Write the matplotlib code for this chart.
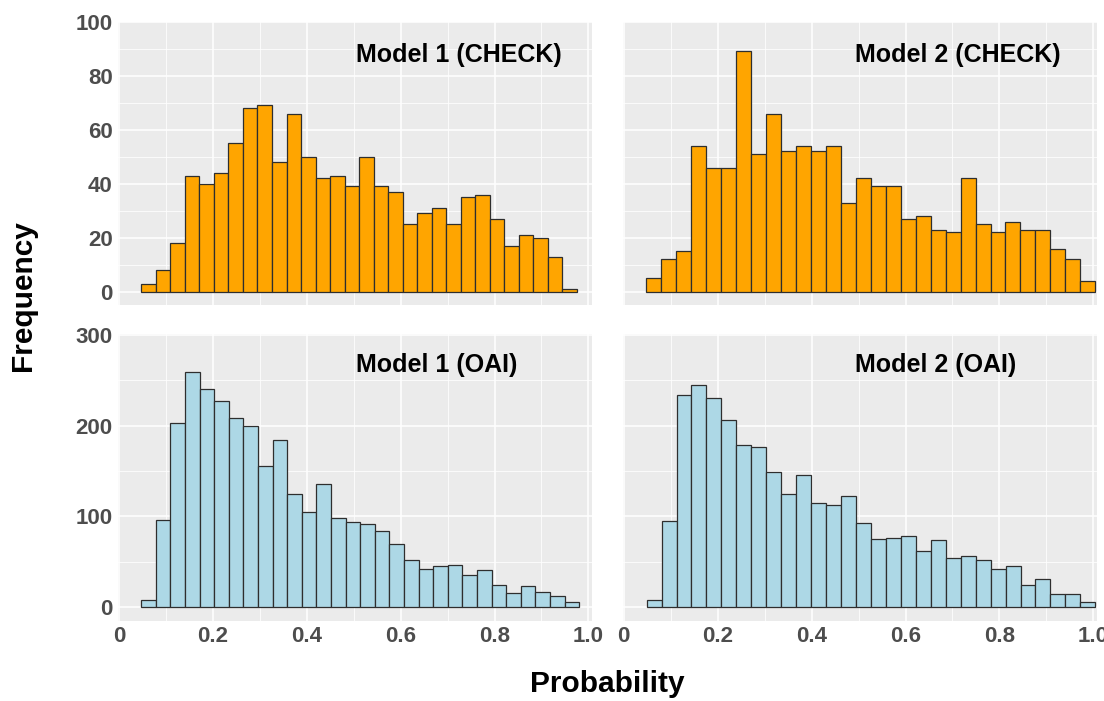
import numpy as np
import matplotlib
matplotlib.use("Agg")
import matplotlib.pyplot as plt
from matplotlib.ticker import MultipleLocator, FixedLocator

plt.rcParams['font.family'] = ['Liberation Sans', 'DejaVu Sans']

# ---- data (bin counts) ----
m1_check = [3, 8, 18, 43, 40, 44, 55, 68, 69, 48, 66, 50, 42, 43, 39,
            50, 39, 37, 25, 29, 31, 25, 35, 36, 27, 17, 21, 20, 13, 1]
m2_check = [5, 12, 15, 54, 46, 46, 89, 51, 66, 52, 54, 52, 54, 33, 42,
            39, 39, 27, 28, 23, 22, 42, 25, 22, 26, 23, 23, 16, 12, 4]
m1_oai = [8, 96, 203, 259, 240, 227, 209, 200, 156, 184, 125, 105, 136, 98, 94,
          92, 84, 70, 52, 42, 45, 47, 35, 41, 24, 16, 23, 17, 12, 6]
m2_oai = [8, 95, 234, 245, 230, 206, 179, 176, 149, 125, 146, 115, 113, 123, 93,
          75, 76, 79, 62, 74, 54, 57, 52, 42, 46, 25, 31, 15, 15, 6]

# histogram bin ranges (min, max of the binned probabilities)
m1_check_range = (0.047, 0.9756)
m2_check_range = (0.0481, 1.004)
m1_oai_range = (0.047, 0.9805)
m2_oai_range = (0.0489, 1.004)

titles = ["Model 1 (CHECK)", "Model 2 (CHECK)", "Model 1 (OAI)", "Model 2 (OAI)"]
x_ticks = [0, 0.2, 0.4, 0.6, 0.8, 1.0]
x_labels = ["0", "0.2", "0.4", "0.6", "0.8", "1.0"]
top_yticks = [0, 20, 40, 60, 80, 100]
bot_yticks = [0, 100, 200, 300]

ORANGE = "#FFA500"
LBLUE = "#ADD8E6"
EDGE = "#2E2E2E"
PANEL = "#EBEBEB"
TICKCOL = "#4D4D4D"

W, H = 1104, 701
fig = plt.figure(figsize=(W / 100, H / 100), dpi=100)


def px_axes(x0, y0, x1, y1):
    return fig.add_axes([x0 / W, 1 - y1 / H, (x1 - x0) / W, (y1 - y0) / H])


axes = [
    px_axes(118.3, 21.7, 591.7, 305.0),
    px_axes(622.7, 21.7, 1096.7, 305.0),
    px_axes(118.3, 334.3, 591.7, 620.7),
    px_axes(622.7, 334.3, 1096.7, 620.7),
]

panels = [
    (m1_check, m1_check_range, ORANGE, (-4.9, 100.0), top_yticks, 10),
    (m2_check, m2_check_range, ORANGE, (-4.9, 100.0), top_yticks, 10),
    (m1_oai, m1_oai_range, LBLUE, (-14.8, 300.7), bot_yticks, 50),
    (m2_oai, m2_oai_range, LBLUE, (-14.8, 300.7), bot_yticks, 50),
]

for i, (ax, (counts, rng, col, ylim, yt, yminor)) in enumerate(zip(axes, panels)):
    n = len(counts)
    edges = np.linspace(rng[0], rng[1], n + 1)
    ax.set_facecolor(PANEL)
    ax.bar(edges[:-1], counts, width=np.diff(edges), align='edge',
           color=col, edgecolor=EDGE, linewidth=0.9, zorder=3)
    ax.set_xlim(-0.002, 1.007)
    ax.set_ylim(*ylim)
    ax.xaxis.set_major_locator(FixedLocator(x_ticks))
    ax.xaxis.set_minor_locator(MultipleLocator(0.1))
    ax.yaxis.set_major_locator(FixedLocator(yt))
    ax.yaxis.set_minor_locator(MultipleLocator(yminor))
    ax.grid(which='major', color='white', linewidth=1.1, zorder=0)
    ax.grid(which='minor', color='white', linewidth=0.55, zorder=0)
    ax.set_axisbelow(True)
    for s in ax.spines.values():
        s.set_visible(False)
    ax.tick_params(which='both', length=0, pad=4,
                   labelsize=16, labelcolor=TICKCOL)
    if i in (0, 2):
        ax.set_yticklabels([str(v) for v in yt], fontweight='bold')
    else:
        ax.tick_params(axis='y', labelleft=False)
    if i in (2, 3):
        ax.set_xticklabels(x_labels, fontweight='bold')
    else:
        ax.tick_params(axis='x', labelbottom=False)
    ty = 0.8825 if i < 2 else 0.893
    tx = 0.502 if i in (0, 2) else 0.49
    ax.text(tx, ty, titles[i], transform=ax.transAxes, ha='left', va='center',
            fontsize=18, fontweight='bold', color='black', zorder=5)

fig.text(23 / W, 1 - 296 / H, "Frequency", rotation=90, ha='center', va='center',
         fontsize=21.5, fontweight='bold', color='black')
fig.text(607.5 / W, 1 - 684 / H, "Probability", ha='center', va='center',
         fontsize=21.5, fontweight='bold', color='black')

fig.savefig("out.png", dpi=100)
